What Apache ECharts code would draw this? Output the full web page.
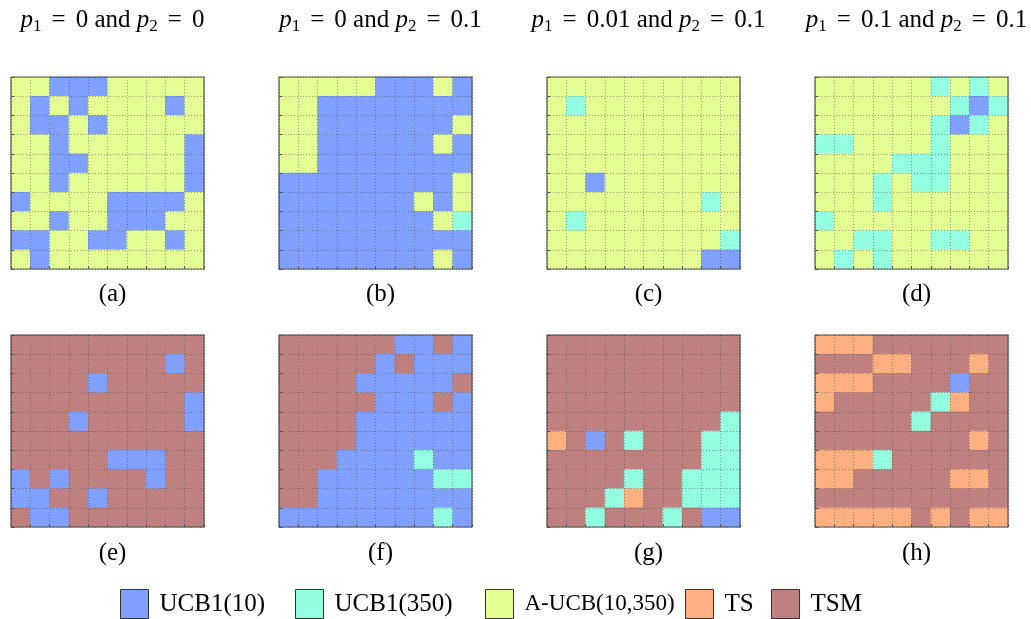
<!DOCTYPE html>
<html>
<head>
<meta charset="utf-8">
<script src="https://cdn.jsdelivr.net/npm/echarts@6/dist/echarts.min.js"></script>
<style>html,body{margin:0;padding:0;background:#fff}#c{width:1031px;height:619px}</style>
</head>
<body>
<div id="c"></div>
<script>
// Method codes: B=UCB1(10), C=UCB1(350), Y=A-UCB(10,350), T=TS, M=TSM
const methods = ['UCB1(10)', 'UCB1(350)', 'A-UCB(10,350)', 'TS', 'TSM'];
const methodCodes = ['B', 'C', 'Y', 'T', 'M'];
const methodColors = ['#80a0ff', '#94ffe0', '#e3ff94', '#ffb080', '#bf8080'];
const cellIndex = ['0','1','2','3','4','5','6','7','8','9'];

// Each panel: 10 rows (top to bottom), 10 columns (left to right)
const panelA = [
  'YYBBBYYYYY',
  'YBYBYYYYBY',
  'YBBYBYYYYY',
  'YYBYYYYYYB',
  'YYBBYYYYYB',
  'YYBYYYYYYB',
  'BYYYYBBBBY',
  'YYBYYBBBYY',
  'BBYYBBYYBY',
  'YBYYYYYYYY'
];
const panelB = [
  'YYYYYBBBYB',
  'YYBBBBBBBB',
  'YYBBBBBBBY',
  'YYBBBBBBYB',
  'YYBBBBBBBB',
  'BBBBBBBBBY',
  'BBBBBBBYBY',
  'BBBBBBBBYC',
  'BBBBBBBBBB',
  'BBBBBBBBYB'
];
const panelC = [
  'YYYYYYYYYY',
  'YCYYYYYYYY',
  'YYYYYYYYYY',
  'YYYYYYYYYY',
  'YYYYYYYYYY',
  'YYBYYYYYYY',
  'YYYYYYYYCY',
  'YCYYYYYYYY',
  'YYYYYYYYYC',
  'YYYYYYYYBB'
];
const panelD = [
  'YYYYYYCYCY',
  'YYYYYYYCBC',
  'YYYYYYCBCY',
  'CCYYYYCYYY',
  'YYYYCCCYYY',
  'YYYCYCCYYY',
  'YYYCYYYYYY',
  'CYYYYYYYYY',
  'YYCCYYCCYY',
  'YCYCYYYYYY'
];
const panelE = [
  'MMMMMMMMMM',
  'MMMMMMMMBM',
  'MMMMBMMMMM',
  'MMMMMMMMMB',
  'MMMBMMMMMB',
  'MMMMMMMMMM',
  'MMMMMBBBMM',
  'BMBMMMMBMM',
  'BBMMBMMMMM',
  'MBBMMMMMMM'
];
const panelF = [
  'MMMMMMBBMB',
  'MMMMMBMBBB',
  'MMMMBBBBBM',
  'MMMMMBBBMB',
  'MMMMBBBBBB',
  'MMMMBBBBBB',
  'MMMBBBBCBB',
  'MMBBBBBBCC',
  'MMBBBBBBBB',
  'BBBBBBBBCB'
];
const panelG = [
  'MMMMMMMMMM',
  'MMMMMMMMMM',
  'MMMMMMMMMM',
  'MMMMMMMMMM',
  'MMMMMMMMMC',
  'TMBMCMMMCC',
  'MMMMMMMMCC',
  'MMMMCMMCCC',
  'MMMCTMMCCC',
  'MMCMMMCMBB'
];
const panelH = [
  'TTTMMMMMMM',
  'MMMTTMMMTM',
  'TTTMMMMBMM',
  'TMMMMMCTMM',
  'MMMMMCMMMM',
  'MMMMMMMMTM',
  'TTTCMMMMMM',
  'TTMMMMMTTM',
  'MMMMMMMMMM',
  'TTTTTMTMTT'
];
const panels = [panelA, panelB, panelC, panelD, panelE, panelF, panelG, panelH];
const panelLabels = ['(a)', '(b)', '(c)', '(d)', '(e)', '(f)', '(g)', '(h)'];
const columnTitles = [
  ['0', '0'],
  ['0', '0.1'],
  ['0.01', '0.1'],
  ['0.1', '0.1']
];

const lefts = [11, 279, 547, 815];
const tops = [77, 335];
const W = 193, H = 192;
const legendLefts = [115, 290, 480, 680, 766];
const legendFontSizes = [25, 25, 23, 25, 25];
const serif = '"Liberation Serif", "DejaVu Serif", serif';

const grids = [], xAxes = [], yAxes = [], series = [], titles = [];
panels.forEach((p, k) => {
  const col = k % 4, row = Math.floor(k / 4);
  grids.push({left: lefts[col], top: tops[row], width: W, height: H,
    show: true, borderColor: '#555', borderWidth: 1.2, z: 10});
  const axisCommon = {
    type: 'category', data: cellIndex, gridIndex: k, z: 10,
    axisLine: {show: false},
    axisLabel: {show: false},
    axisTick: {show: true, inside: true, length: 3, interval: 0, lineStyle: {color: '#555'}},
    splitLine: {show: true, interval: 0, lineStyle: {type: [1, 2], color: 'rgba(40,40,40,0.4)', width: 1}}
  };
  xAxes.push(Object.assign({}, axisCommon));
  yAxes.push(Object.assign({}, axisCommon, {inverse: true}));
  const data = [];
  p.forEach((rowStr, r) => {
    rowStr.split('').forEach((ch, c) => {
      data.push([c, r, methodCodes.indexOf(ch)]);
    });
  });
  series.push({type: 'heatmap', xAxisIndex: k, yAxisIndex: k, data: data,
    itemStyle: {borderWidth: 0}, emphasis: {disabled: true}, progressive: 0});
  titles.push({text: panelLabels[k], left: lefts[col] + W / 2, textAlign: 'center',
    top: row === 0 ? 277 : 536,
    textStyle: {fontFamily: serif, fontSize: 25, fontWeight: 'normal', color: '#000'}});
});

const richBase = {fontFamily: serif, fontSize: 25, fontWeight: 'normal', color: '#000', lineHeight: 30};
columnTitles.forEach((t, col) => {
  titles.push({
    text: '{i|p}{s|1}{e|=}{n|' + t[0] + ' and }{i|p}{s|2}{e|=}{n|' + t[1] + '}',
    left: lefts[col] + W / 2, textAlign: 'center', top: 0,
    textStyle: {
      fontWeight: 'normal',
      rich: {
        i: Object.assign({}, richBase, {fontStyle: 'italic'}),
        s: Object.assign({}, richBase, {fontSize: 17, padding: [14, 0, 0, 0]}),
        e: Object.assign({}, richBase, {padding: [0, 10, 0, 10]}),
        n: Object.assign({}, richBase)
      }
    }
  });
});

methods.forEach((m, i) => {
  series.push({type: 'scatter', name: m, data: [], xAxisIndex: 0, yAxisIndex: 0,
    itemStyle: {color: methodColors[i], opacity: 1}});
});

const legends = methods.map((m, i) => ({
  left: legendLefts[i], top: 584, icon: 'rect', itemWidth: 28, itemHeight: 29,
  selectedMode: false,
  itemStyle: {borderColor: '#333', borderWidth: 1, opacity: 1},
  textStyle: {fontFamily: serif, fontSize: legendFontSizes[i], color: '#000', padding: [0, 0, 0, 6]},
  data: [m]
}));

const chart = echarts.init(document.getElementById('c'), null, {renderer: 'canvas'});
chart.setOption({
  animation: false,
  backgroundColor: '#fff',
  title: titles,
  grid: grids,
  xAxis: xAxes,
  yAxis: yAxes,
  visualMap: {
    type: 'piecewise', show: false, dimension: 2,
    seriesIndex: [0, 1, 2, 3, 4, 5, 6, 7],
    pieces: methodColors.map((c, i) => ({value: i, color: c}))
  },
  legend: legends,
  series: series
});
</script>
</body>
</html>
